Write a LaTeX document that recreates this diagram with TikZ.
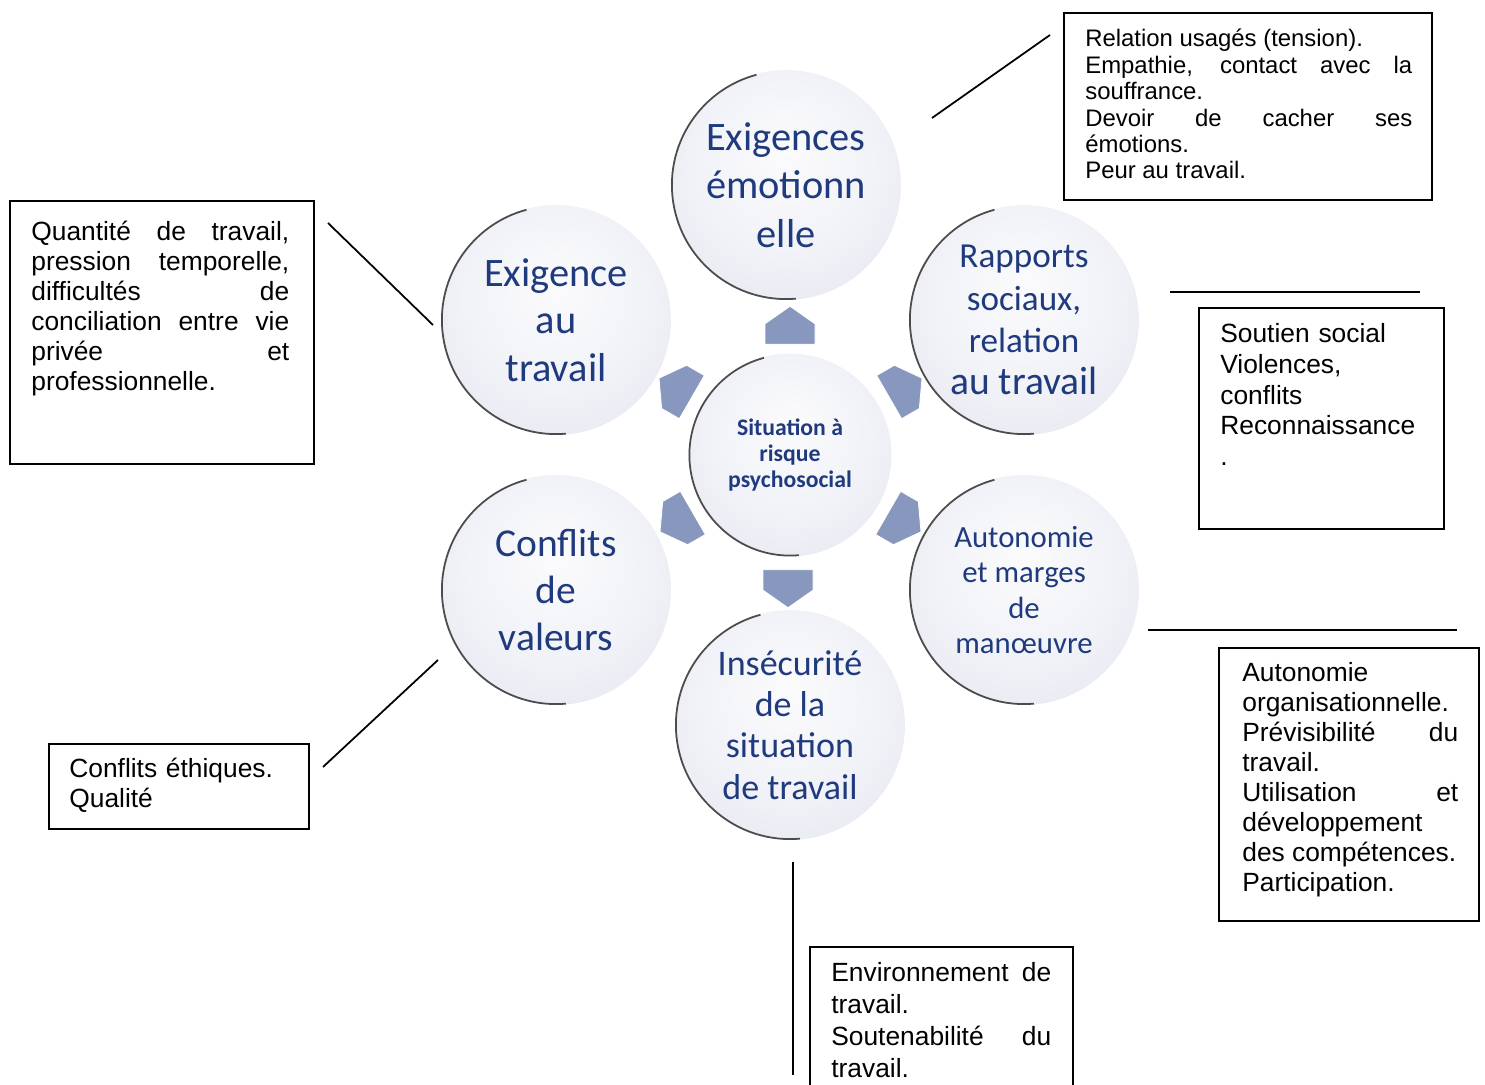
\documentclass[tikz,border=0pt]{standalone}
\usepackage{fontspec}
\setmainfont{Liberation Sans}
\newfontfamily\calibri{Carlito}
\usepackage{tikz}
\usetikzlibrary{shapes.arrows}
\definecolor{navy}{HTML}{1F3A7D}
\definecolor{arrowblue}{RGB}{136,151,189}
\pgfdeclareradialshading{bulle}{\pgfpoint{0bp}{8bp}}{rgb(0bp)=(0.985,0.985,0.99); rgb(20bp)=(0.945,0.95,0.97); rgb(40bp)=(0.885,0.893,0.932); rgb(46bp)=(0.865,0.873,0.918); rgb(50bp)=(0.95,0.955,0.97)}
\hyphenpenalty=10000
\tolerance=10000
\hbadness=10000

\begin{document}
\begin{tikzpicture}[x=0.02cm, y=0.02cm,
bubble/.style={circle, shading=bulle, minimum size=2*#1, inner sep=0, text=navy, align=center,
  path picture={\draw[black!70, line width=2pt] (path picture bounding box.center) ++(105:#1) arc[start angle=105, end angle=275, radius=#1];}},
main node/.style={bubble=2.3cm},
centre node/.style={bubble=2.03cm},
arrow node/.style={single arrow, single arrow head extend=0pt, single arrow tip angle=110, minimum height=0.76cm, minimum width=1cm, inner sep=0, fill=arrowblue, draw=white, line width=0.5pt},
box/.style={draw, line width=1.1pt, anchor=north west, inner sep=0},
box text/.style={anchor=base west, inner sep=0, text width=#1, align=justify, font=\fontsize{15}{17}\selectfont},
link/.style={draw, line width=1pt}]
\useasboundingbox (0,0) rectangle (1485,1085);
\clip (0,0) rectangle (1485,1085);

\node[main node, font=\calibri\fontsize{23}{27.5}\selectfont] (1) at (786,900) {Exigences\\émotionn\\elle};
\node[main node, font=\calibri\fontsize{23}{27}\selectfont] (2) at (556,765) {Exigence\\au\\travail};
\node[main node, font=\calibri\fontsize{20}{24}\selectfont] (3) at (1024,765) {Rapports\\sociaux,\\relation\\{\fontsize{22.5}{24}\selectfont au travail}};
\node[main node, font=\calibri\fontsize{22.5}{27}\selectfont] (4) at (556,495) {Conflits\\de\\valeurs};
\node[main node, font=\calibri\fontsize{17.5}{20}\selectfont] (5) at (1024,495) {Autonomie\\et marges\\de\\manœuvre};
\node[main node, font=\calibri\fontsize{20.5}{23.5}\selectfont] (6) at (790,360) {Insécurité\\de la\\situation\\de travail};
\node[centre node, font=\calibri\bfseries\fontsize{13.5}{15}\selectfont] (7) at (790,630) {Situation à\\risque\\psychosocial};

\node[arrow node, rotate=90] (f1) at (790,751) {};
\node[arrow node, rotate=150] (f2) at (683,693) {};
\node[arrow node, rotate=30] (f3) at (898,693) {};
\node[arrow node, rotate=210] (f4) at (684,567) {};
\node[arrow node, rotate=330] (f5) at (897,567) {};
\node[arrow node, rotate=270] (f6) at (788,505) {};

\coordinate (l1a) at (932,967);
\coordinate (l1b) at (1050,1050);
\coordinate (l2a) at (328,862);
\coordinate (l2b) at (433,760);
\coordinate (l3a) at (1170,793);
\coordinate (l3b) at (1420,793);
\coordinate (l4a) at (1148,455);
\coordinate (l4b) at (1457,455);
\coordinate (l5a) at (323,318);
\coordinate (l5b) at (438,425);
\coordinate (l6a) at (793,223);
\coordinate (l6b) at (793,10);
\path
(l1a) edge[link] (l1b)
(l2a) edge[link] (l2b)
(l3a) edge[link] (l3b)
(l4a) edge[link] (l4b)
(l5a) edge[link] (l5b)
(l6a) edge[link] (l6b);

\node[box, minimum width=7.36cm, minimum height=3.74cm] (b1) at (1063,1073) {};
\node[box, minimum width=6.08cm, minimum height=5.26cm] (b2) at (9,885) {};
\node[box, minimum width=4.9cm, minimum height=4.42cm] (b3) at (1198,778) {};
\node[box, minimum width=5.2cm, minimum height=5.46cm] (b4) at (1218,438) {};
\node[box, minimum width=5.2cm, minimum height=1.7cm] (b5) at (48,342) {};
\node[box, minimum width=5.26cm, minimum height=3.4cm] (b6) at (809,139) {};

\node[box text=6.54cm, font=\fontsize{13.6}{15}\selectfont] (t1) at (1085,1038) {Relation usagés (tension).\par Empathie, contact avec la \linebreak souffrance.\par Devoir de cacher ses \linebreak émotions.\par Peur au travail.};
\node[box text=5.16cm] (t2) at (31,844) {Quantité de travail, \linebreak pression temporelle, \linebreak difficultés de \linebreak conciliation entre vie \linebreak privée et \linebreak professionnelle.};
\node[box text=4.2cm, align=left, font=\fontsize{15}{17.4}\selectfont] (t3) at (1220,742) {Soutien social\\Violences,\\conflits\\Reconnaissance\\.};
\node[box text=4.32cm] (t4) at (1242,403) {Autonomie \linebreak organisationnelle.\par Prévisibilité du \linebreak travail.\par Utilisation et \linebreak développement \linebreak des compétences.\par Participation.};
\node[box text=5cm, align=left] (t5) at (69,307) {Conflits éthiques.\\Qualité};
\node[box text=4.4cm, font=\fontsize{15}{18.2}\selectfont] (t6) at (831,103) {Environnement de \linebreak travail.\par Soutenabilité du \linebreak travail.};
\end{tikzpicture}
\end{document}
